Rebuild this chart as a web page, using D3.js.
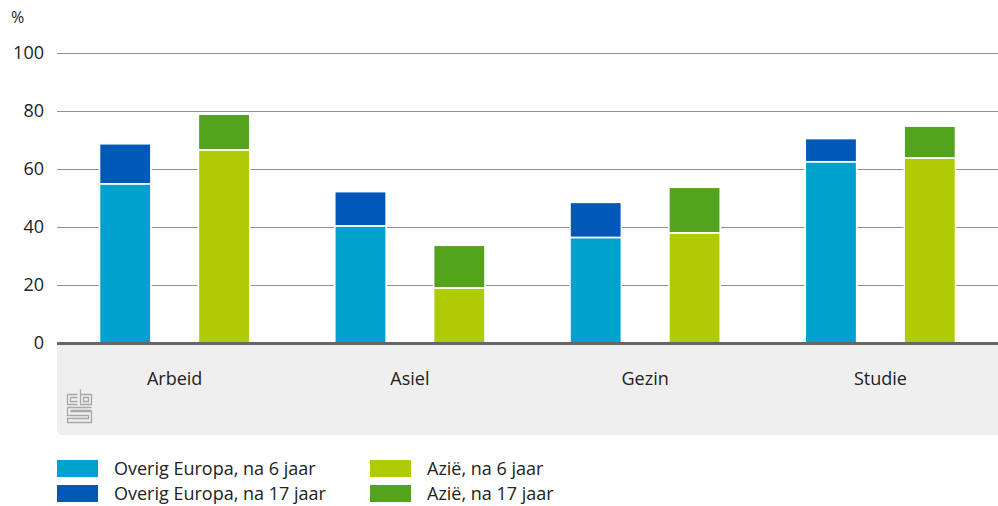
<!DOCTYPE html>
<html><head><meta charset="utf-8">
<script src="https://cdn.jsdelivr.net/npm/d3@7"></script>
<style>
html,body{margin:0;padding:0;background:#fff;}
svg text{font-family:"Open Sans","Noto Sans",sans-serif;fill:#222;}
</style></head>
<body>
<svg id="chart" width="998" height="506"></svg>
<script>
const categories = ["Arbeid", "Asiel", "Gezin", "Studie"];
const groups = ["Overig Europa", "Azië"];
const europa6 = [54.9, 40.4, 36.4, 62.5];
const europa17 = [68.7, 52.2, 48.5, 70.5];
const azie6 = [66.6, 19.0, 38.0, 63.8];
const azie17 = [78.9, 33.7, 53.7, 74.8];
const yTicks = [0, 20, 40, 60, 80, 100];
const legendLabels = ["Overig Europa, na 6 jaar", "Overig Europa, na 17 jaar", "Azië, na 6 jaar", "Azië, na 17 jaar"];
const colors = {e6: "#00a1cd", e17: "#0058b8", a6: "#afcb05", a17: "#53a31d"};

const svg = d3.select("#chart");
const mLeft = 57, mRight = 998, mTop = 53, mBottom = 343;

const y = d3.scaleLinear().domain([0, 100]).range([mBottom, mTop]);
const x0 = d3.scaleBand().domain(categories).range([mLeft, mRight]).padding(0);
const x1 = d3.scaleBand().domain(groups).range([0, x0.bandwidth()]).paddingInner(0.48).paddingOuter(0.43);

// bottom band
const bandH = 92, r = 6;
svg.append("path")
  .attr("d", `M${mLeft},${mBottom} H${mRight} V${mBottom+bandH} H${mLeft+r} Q${mLeft},${mBottom+bandH} ${mLeft},${mBottom+bandH-r} Z`)
  .attr("fill", "#efefef");

// grid
svg.append("g").selectAll("line").data(yTicks.filter(d => d > 0)).join("line")
  .attr("x1", mLeft).attr("x2", mRight)
  .attr("y1", d => Math.round(y(d)) + 0.5).attr("y2", d => Math.round(y(d)) + 0.5)
  .attr("stroke", "#8f8f8f").attr("stroke-width", 1.2);

// y labels
svg.append("g").selectAll("text").data(yTicks).join("text")
  .attr("x", 44).attr("y", d => y(d)).attr("dy", "0.35em")
  .attr("text-anchor", "end").attr("font-size", 18).text(d => d);
svg.append("text").attr("x", 11).attr("y", 23).attr("font-size", 16).text("%");

// bars
const rows = categories.map((c, i) => ({c,
  segs: [
    {g: "Overig Europa", y0: 0, y1: europa6[i], col: colors.e6},
    {g: "Overig Europa", y0: europa6[i], y1: europa17[i], col: colors.e17},
    {g: "Azië", y0: 0, y1: azie6[i], col: colors.a6},
    {g: "Azië", y0: azie6[i], y1: azie17[i], col: colors.a17}
  ]}));
const gBars = svg.append("g");
rows.forEach(row => {
  gBars.append("g").selectAll("rect").data(row.segs).join("rect")
    .attr("x", d => x0(row.c) + x1(d.g))
    .attr("width", x1.bandwidth())
    .attr("y", d => y(d.y1))
    .attr("height", d => y(d.y0) - y(d.y1))
    .attr("fill", d => d.col)
    .attr("stroke", "#fff").attr("stroke-width", 1.6);
});

// baseline
svg.append("line").attr("x1", mLeft).attr("x2", mRight)
  .attr("y1", mBottom + 0.5).attr("y2", mBottom + 0.5)
  .attr("stroke", "#666").attr("stroke-width", 3);

// category labels
svg.append("g").selectAll("text").data(categories).join("text")
  .attr("x", d => x0(d) + x0.bandwidth() / 2).attr("y", 385)
  .attr("text-anchor", "middle").attr("font-size", 18).text(d => d);

// cbs logo
const logo = svg.append("g").attr("transform", "translate(67,389)")
  .attr("fill", "none").attr("stroke", "#a8a8a8").attr("stroke-width", 1.3);
logo.append("path").attr("d", "M0.5,5.5 H10.5 M0.5,5.5 V15.5 H10.5 M3.5,8.5 H10.5 M3.5,8.5 V12.5 H10.5");
logo.append("path").attr("d", "M13.5,0.5 V15.5 H24.5 V5.5 H13.5 M16.5,8.5 H21.5 V12.5 H16.5 Z");
logo.append("path").attr("d", "M0.5,18.5 H24.5 M0.5,18.5 V26.5 H21.5 V29.5 H0.5 V33.5 H24.5 V22.5 H3.5 M3.5,22.5 V23 M3.5,21.5 H24.5");

// legend
const legItems = [
  {t: legendLabels[0], c: colors.e6, x: 57, y: 460},
  {t: legendLabels[1], c: colors.e17, x: 57, y: 485},
  {t: legendLabels[2], c: colors.a6, x: 370, y: 460},
  {t: legendLabels[3], c: colors.a17, x: 370, y: 485}
];
const leg = svg.append("g").selectAll("g").data(legItems).join("g")
  .attr("transform", d => `translate(${d.x},${d.y})`);
leg.append("rect").attr("width", 41).attr("height", 17).attr("fill", d => d.c);
leg.append("text").attr("x", 57).attr("y", 8.5).attr("dy", "0.35em").attr("font-size", 18).text(d => d.t);
</script>
</body></html>
